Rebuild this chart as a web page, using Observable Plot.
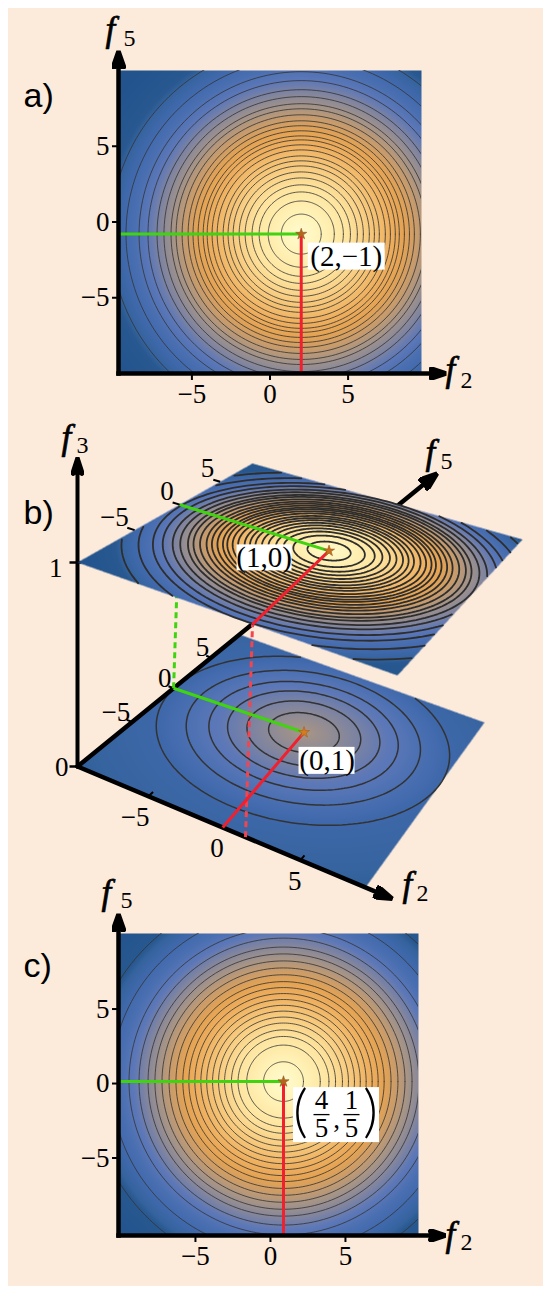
<!DOCTYPE html>
<html><head><meta charset="utf-8">
<script src="https://cdn.jsdelivr.net/npm/d3@7"></script>
<script src="https://cdn.jsdelivr.net/npm/@observablehq/plot@0.6"></script>
<style>
html,body{margin:0;padding:0;background:#fff}
#page{position:relative;width:550px;height:1298px;overflow:hidden}
#sheet{position:absolute;left:8px;top:8px;width:535px;height:1278px;background:#fceadb}
#page svg{position:absolute;left:0;background:transparent;overflow:visible}
</style></head><body><div id="page"><div id="sheet"></div></div>
<script>
// ---------- values ----------
const tickValues = [-5, 0, 5];
const radiiA = [1.3,2.15,2.74,3.2,3.65,4.04,4.43,4.76,5.08,5.47,5.8,6.12,6.38,6.71,7.04,7.36,7.75,8.14,8.47,8.93,9.38,9.97,10.55,11.4,12.4];
const radiiC = [1.33,2.45,3.03,3.47,3.93,4.33,4.73,5.12,5.51,5.91,6.31,6.71,7.17,7.63,8.1,8.57,9.03,9.63,10.3,11.47,12.87];
const radiiBottom = [2.3,3.7,4.95,6.15,7.6,9.5];
const radiiBottomLevel = [8.93,9.38,9.8,10.2,10.8,11.8];
const colorStops = [0,1.3,3,4.5,5.8,6.7,7.5,8.3,9.2,10,10.8,11.6,12.35,12.8,15];
const colorRange = ["#fffcd0","#fff3b8","#fee5a0","#f7c97c","#eeaf5e","#e4a353","#c99c6b","#a59488","#81859f","#5d78b8","#4b70b2","#4069ac","#36649f","#28588f","#23538d"];
const peakA = [2, -0.8];
const peakC = [0.87, 0.13];
const peakTop = [1, 0];
const peakBottom = [-0.5, 0.6];
const footBottomRed = 0;
const footDashRed = 1.49;
const footTopRed = 1.77;

// ---------- shared pieces ----------
const serif = "Liberation Serif";
const GREEN = "#3fd40f", RED = "#f2202e";
const angles = d3.range(0, 361, 2).map(d => d * Math.PI / 180);
const colorScale = {type:"linear", domain:colorStops, range:colorRange, clamp:true};
const fmt = d => d < 0 ? "\u2212" + (-d) : String(d);

function arrowHead(len, hw, ahead) {
  return () => {
    const ns = "http://www.w3.org/2000/svg";
    const m = document.createElementNS(ns, "marker");
    m.setAttribute("viewBox", `${-len - 1} ${-hw - 1} ${len + 2} ${2 * hw + 2}`);
    m.setAttribute("markerWidth", len + 2);
    m.setAttribute("markerHeight", 2 * hw + 2);
    m.setAttribute("markerUnits", "userSpaceOnUse");
    m.setAttribute("refX", -ahead);
    m.setAttribute("refY", 0);
    m.setAttribute("orient", "auto");
    const p = document.createElementNS(ns, "path");
    p.setAttribute("d", `M0,0L${-len},${-hw}L${-len + 3},0L${-len},${hw}Z`);
    p.setAttribute("fill", "black");
    m.appendChild(p);
    return m;
  };
}
// text pinned to the frame with pixel offsets
const pinned = (s, anchor, dx, dy, o = {}) =>
  Plot.text([s], {frameAnchor:anchor, dx, dy, textAnchor:"start", lineAnchor:"bottom", fontFamily:serif, ...o});
const mathLabel = (sub, anchor, dx, dy, subDx, subDy) => [
  pinned("f", anchor, dx, dy, {fontSize:35, fontStyle:"italic", fill:"black", stroke:"black", strokeWidth:.7}),
  pinned(sub, anchor, subDx, subDy, {fontSize:24})
];
// white box placed around a point with pixel offsets
const boxAt = (x, y, l, r, t, b) =>
  Plot.rect([0], {x1:()=>x, x2:()=>x, y1:()=>y, y2:()=>y, insetLeft:l, insetRight:-r, insetTop:t, insetBottom:-b, fill:"white"});
const at = (x, y, s, dx, dy, o = {}) =>
  Plot.text([s], {x:()=>x, y:()=>y, dx, dy, fontFamily:serif, fontSize:29, ...o});
const seg = (x1, y1, x2, y2, o) =>
  Plot.link([0], {x1:()=>x1, y1:()=>y1, x2:()=>x2, y2:()=>y2, ...o});

function place(svg, top) {
  svg.style.top = top + "px";
  document.getElementById("page").appendChild(svg);
}

// ---------- flat panels a) and c) ----------
function flatPanel({top, height, marginTop, marginBottom, marginRight, xDomain, yDomain, peak, radii, aspect, tipX, tipY, extras}) {
  const dist = (x, y) => Math.hypot((x - peak[0]) * aspect[0], (y - peak[1]) * aspect[1]);
  const rings = radii.flatMap(r => angles.map(t => ({
    f2: peak[0] + r * Math.cos(t) / aspect[0],
    f5: peak[1] + r * Math.sin(t) / aspect[1], r})));
  const svg = Plot.plot({
    width:550, height, marginLeft:118, marginRight, marginTop, marginBottom,
    x:{domain:xDomain, label:null}, y:{domain:yDomain, label:null},
    color:colorScale, style:{background:"transparent"},
    marks:[
      Plot.raster({fill:dist, x1:xDomain[0], x2:xDomain[1], y1:yDomain[0], y2:yDomain[1], pixelSize:1}),
      Plot.line(rings, {x:"f2", y:"f5", z:"r", stroke:"#333", strokeOpacity:.8, strokeWidth:1, clip:true}),
      seg(xDomain[0], peak[1], peak[0], peak[1], {stroke:GREEN, strokeWidth:3}),
      seg(peak[0], yDomain[0], peak[0], peak[1], {stroke:RED, strokeWidth:3}),
      Plot.axisX({ticks:tickValues, tickFormat:fmt, tickSize:7, tickPadding:3, fontSize:27, fontFamily:serif, strokeWidth:2, label:null, anchor:"bottom"}),
      Plot.axisY({ticks:tickValues, tickFormat:fmt, tickSize:6, tickPadding:3, fontSize:27, fontFamily:serif, strokeWidth:2, label:null, anchor:"left"}),
      seg(xDomain[0], yDomain[0], tipX, yDomain[0], {stroke:"black", strokeWidth:4.5, strokeLinecap:"square", markerEnd:arrowHead(16, 5.5, 4)}),
      seg(xDomain[0], yDomain[0], xDomain[0], tipY, {stroke:"black", strokeWidth:4.5, strokeLinecap:"square", markerEnd:arrowHead(17, 6, 4)}),
      Plot.dot([0], {x:()=>peak[0], y:()=>peak[1], r:3.5, symbol:"star", fill:"#b8651c", stroke:"#8a5a1e", strokeWidth:.6}),
      ...extras(peak)
    ]
  });
  place(svg, top);
}

flatPanel({
  top:0, height:410, marginTop:70, marginBottom:37, marginRight:129,
  xDomain:[-9.7,9.7], yDomain:[-10,10], peak:peakA, radii:radiiA, aspect:[1.016,0.984], tipX:11, tipY:11,
  extras:p => [
    boxAt(p[0], p[1], 7, 84, 9, 36),
    at(p[0], p[1], "(2,\u22121)", 45, 23),
    ...mathLabel("5", "top-left", -13, -30, 5, -25),
    ...mathLabel("2", "bottom-right", 24, 7, 39, 14),
    pinned("a)", "top-left", -95, 36, {fontFamily:"Liberation Sans", fontSize:34})
  ]
});

// ---------- panel b) ----------
function plane(corners, f2Dom, f5Dom) {
  const [[x0,y0],[x1,y1],[x2,y2],[x3,y3]] = corners;
  const sx = x0-x1+x2-x3, sy = y0-y1+y2-y3;
  const dx1 = x1-x2, dx2 = x3-x2, dy1 = y1-y2, dy2 = y3-y2;
  const det = dx1*dy2 - dx2*dy1;
  const g = (sx*dy2 - dx2*sy)/det, h = (dx1*sy - sx*dy1)/det;
  const a = x1-x0+g*x1, b = x3-x0+h*x3, c = x0;
  const d = y1-y0+g*y1, e = y3-y0+h*y3, f = y0;
  const un = (v, D) => (v - D[0])/(D[1]-D[0]);
  const fw = (f2, f5) => {
    const u = un(f2, f2Dom), v = un(f5, f5Dom), w = g*u + h*v + 1;
    return [(a*u + b*v + c)/w, (d*u + e*v + f)/w];
  };
  // inverse matrix
  const A = e - f*h, B = c*h - b, C = b*f - c*e,
        D = f*g - d, E = a - c*g, F = c*d - a*f,
        G = d*h - e*g, H = b*g - a*h, I = a*e - b*d;
  const inv = (x, y) => {
    const w = G*x + H*y + I, u = (A*x + B*y + C)/w, v = (D*x + E*y + F)/w;
    return [u, v, f2Dom[0]+u*(f2Dom[1]-f2Dom[0]), f5Dom[0]+v*(f5Dom[1]-f5Dom[0])];
  };
  return {fw, inv, f2Dom, f5Dom};
}
const topPlane = plane([[77,562],[397,675],[522,539],[252,463]], [-9.7,10], [-10.6,9.4]);
const lowPlane = plane([[77,766],[365,887],[484,722],[239,634]], [-10,9], [-10.9,9.1]);

const ringsOn = (pl, c, radii) => radii.flatMap(r => angles.map(t => {
  const a = c[0] + r*Math.cos(t), b = c[1] + r*Math.sin(t);
  const inside = a >= pl.f2Dom[0] && a <= pl.f2Dom[1] && b >= pl.f5Dom[0] && b <= pl.f5Dom[1];
  const [x, y] = pl.fw(a, b);
  return {x: inside ? x : NaN, y: inside ? y : NaN, r};
}));
const rasterOn = (pl, c, key) => Plot.raster({
  x1:0, x2:550, y1:410, y2:910, pixelSize:.5,
  fill:(sx, sy) => {
    const [u, v, a, b] = pl.inv(sx, sy);
    return (u < 0 || u > 1 || v < 0 || v > 1) ? NaN : key(Math.hypot(a - c[0], b - c[1]));
  }
});
const lowKey = d3.scaleLinear().domain([0, ...radiiBottom, 16]).range([8.2, ...radiiBottomLevel, 12.7]);
const linkF = (p, q, o) => seg(p[0], p[1], q[0], q[1], o);
const tickLinks = (pts) => Plot.link(pts, {x1:d=>d[0][0], y1:d=>d[0][1], x2:d=>d[1][0], y2:d=>d[1][1], stroke:"black", strokeWidth:2});
const tickTexts = (fn, dx, dy, anchor = "end") => Plot.text(tickValues, {
  x:d=>fn(d)[0], y:d=>fn(d)[1], text:fmt, dx, dy, textAnchor:anchor, lineAnchor:"middle", fontFamily:serif, fontSize:27});

const lw = lowPlane, tp = topPlane;
const lowF5 = d => lw.fw(lw.f2Dom[0], d), lowF2 = d => lw.fw(d, lw.f5Dom[0]), topF5 = d => tp.fw(tp.f2Dom[0], d);
const A0 = lw.fw(lw.f2Dom[0], lw.f5Dom[0]), A1 = tp.fw(tp.f2Dom[0], tp.f5Dom[0]);
const cLow = lw.fw(...peakBottom), cTop = tp.fw(...peakTop);
const dir = (p, q, k) => [p[0] + (q[0]-p[0])*k, p[1] + (q[1]-p[1])*k];

const svgB = Plot.plot({
  width:550, height:500, margin:0,
  x:{domain:[0,550], range:[0,550], label:null, axis:null},
  y:{domain:[410,910], range:[0,500], label:null, axis:null},
  color:colorScale, style:{background:"transparent"},
  marks:[
    rasterOn(lw, peakBottom, lowKey),
    Plot.line(ringsOn(lw, peakBottom, radiiBottom), {x:"x", y:"y", z:"r", stroke:"#333", strokeWidth:1.5}),
    // f5 axis runs behind the upper plane
    linkF(A0, dir(A0, lw.fw(lw.f2Dom[0], lw.f5Dom[1]), 2.2), {stroke:"black", strokeWidth:4.5, strokeLinecap:"round", markerEnd:arrowHead(18, 6.5, 4)}),
    linkF(A0, dir(A0, lw.fw(lw.f2Dom[1], lw.f5Dom[0]), 1.08), {stroke:"black", strokeWidth:4.5, strokeLinecap:"round", markerEnd:arrowHead(18, 6, 4)}),
    seg(A0[0], A0[1], A0[0], 461, {stroke:"black", strokeWidth:4, markerEnd:arrowHead(17, 5.5, 4)}),
    seg(A0[0]-8, A0[1], A0[0], A0[1], {stroke:"black", strokeWidth:2.5}),
    seg(A1[0]-8, A1[1], A1[0]+4, A1[1], {stroke:"black", strokeWidth:2.5}),
    at(A0[0], A0[1], "0", -9, 1, {fontSize:27, textAnchor:"end"}),
    at(A1[0], A1[1], "1", -15, 6, {fontSize:27, textAnchor:"end"}),
    tickLinks(tickValues.map(d => [lowF2(d), lw.fw(d, lw.f5Dom[0]+.5)])),
    tickLinks(tickValues.map(d => [lowF5(d), lw.fw(lw.f2Dom[0]-.4, d)])),
    tickTexts(lowF2, 1, 21),
    tickTexts(lowF5, -2, -10),
    // dashed drops between the planes
    linkF(lowF5(0), topF5(0), {stroke:GREEN, strokeWidth:3, strokeDasharray:"6,4"}),
    linkF(lw.fw(footDashRed, lw.f5Dom[0]), tp.fw(footTopRed, tp.f5Dom[0]), {stroke:"#f4444e", strokeWidth:3, strokeDasharray:"6,4"}),
    linkF(lowF5(0), cLow, {stroke:GREEN, strokeWidth:3}),
    linkF(lw.fw(footBottomRed, lw.f5Dom[0]), cLow, {stroke:RED, strokeWidth:3}),
    Plot.dot([0], {x:()=>cLow[0], y:()=>cLow[1], r:3.5, symbol:"star", fill:"#d97a1e", stroke:"#a0601c", strokeWidth:.6}),
    boxAt(cLow[0], cLow[1], -5, 51, 15, 42),
    at(cLow[0], cLow[1], "(0,1)", 23, 28),
    // upper plane
    rasterOn(tp, peakTop, d => d),
    Plot.line(ringsOn(tp, peakTop, radiiA), {x:"x", y:"y", z:"r", stroke:"#2e2e2e", strokeWidth:1.8}),
    tickLinks(tickValues.map(d => [topF5(d), tp.fw(tp.f2Dom[0]-.55, d)])),
    tickTexts(topF5, -6, -13),
    linkF(topF5(0), cTop, {stroke:GREEN, strokeWidth:3}),
    linkF(tp.fw(footTopRed, tp.f5Dom[0]), cTop, {stroke:RED, strokeWidth:3}),
    Plot.dot([0], {x:()=>cTop[0], y:()=>cTop[1], r:3.5, symbol:"star", fill:"#c9701c", stroke:"#9a5c1c", strokeWidth:.6}),
    boxAt(cTop[0], cTop[1], -92, -37, -6, 20),
    at(cTop[0], cTop[1], "(1,0)", -65, 7),
    ...mathLabel("3", "top-left", 61, 38, 76, 42),
    ...mathLabel("5", "top-left", 425, 53, 440, 58),
    ...mathLabel("2", "top-left", 402, 485, 416, 490),
    pinned("b)", "top-left", 23, 113, {fontFamily:"Liberation Sans", fontSize:34})
  ]
});
place(svgB, 410);

// ---------- panel c) ----------
flatPanel({
  top:880, height:418, marginTop:53, marginBottom:63, marginRight:132,
  xDomain:[-10.13,9.87], yDomain:[-10.2,10.07], peak:peakC, radii:radiiC, aspect:[1,1], tipX:11.4, tipY:11.1,
  extras:p => [
    boxAt(p[0], p[1], 10, 96, 6, 61),
    at(p[0], p[1], "(", 17, 31, {fontSize:58, fontFamily:"Lato", fontWeight:300}),
    at(p[0], p[1], ")", 87, 31, {fontSize:58, fontFamily:"Lato", fontWeight:300}),
    at(p[0], p[1], "4", 38, 19, {fontSize:27}),
    at(p[0], p[1], "5", 38, 47, {fontSize:27}),
    at(p[0], p[1], "1", 68, 19, {fontSize:27}),
    at(p[0], p[1], "5", 68, 47, {fontSize:27}),
    at(p[0], p[1], ",", 53, 38, {fontSize:27}),
    Plot.dot([0], {x:()=>p[0], y:()=>p[1], dx:38, dy:33, symbol:{draw(c,s){c.moveTo(-8,0);c.lineTo(8,0);}}, r:1, stroke:"black", strokeWidth:1.3, fill:"none"}),
    Plot.dot([0], {x:()=>p[0], y:()=>p[1], dx:68, dy:33, symbol:{draw(c,s){c.moveTo(-8,0);c.lineTo(8,0);}}, r:1, stroke:"black", strokeWidth:1.3, fill:"none"}),
    ...mathLabel("5", "top-left", -17, -30, 2, -26),
    ...mathLabel("2", "bottom-right", 27, 10, 42, 14),
    pinned("c)", "top-left", -95, 43, {fontFamily:"Liberation Sans", fontSize:34})
  ]
});
</script></body></html>
